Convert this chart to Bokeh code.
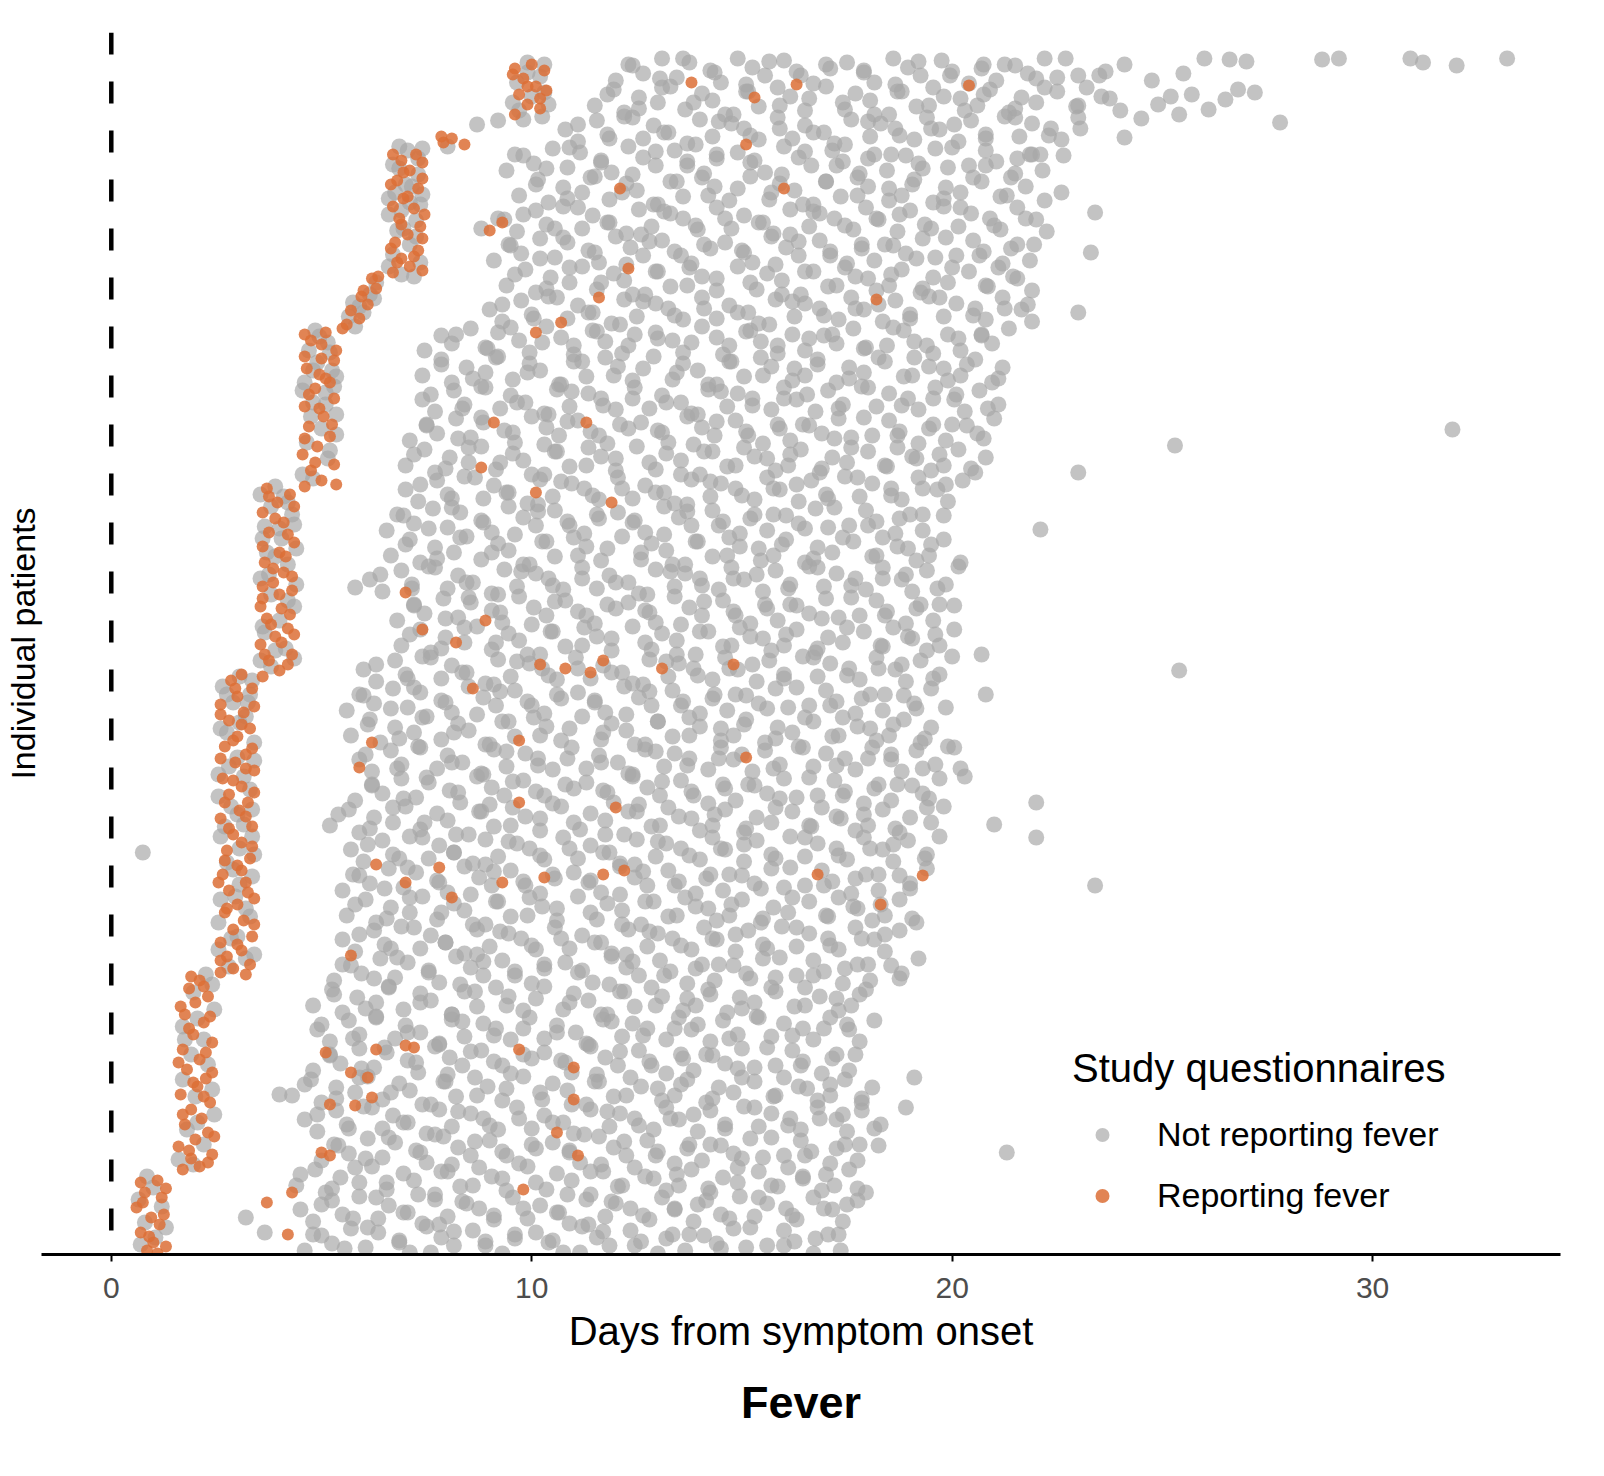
#Scatter of study questionnaires per patient (fever) with bokeh

from bokeh.plotting import figure
from bokeh.models import ColumnDataSource, Range1d, Span, Legend, LegendItem, FixedTicker, Title
from bokeh.core.properties import value
from bokeh.embed import file_html
from bokeh.resources import INLINE

FONT = "Liberation Sans"

#### DATA (day from symptom onset, patient rank) ####
#first questionnaire of each patient: the staircase on the left
stair_fever = [(0.7,72),(1.1,74),(0.8,62),(1.2,57),(0.6,47),(0.95,37),(1.25,40),(0.7,22),(1.0,12),(0.85,4),(1.1,1),
    (1.3,66),(0.75,52),(1.15,30),(0.9,18),(1.3,8),
    (1.7,85),(2.1,88),(1.9,96),(2.4,100),(1.6,108),(2.0,115),(2.3,122),(1.75,130),(2.15,136),(1.9,145),(2.35,152),(1.65,160),
    (2.05,168),(2.25,176),(1.8,185),(2.1,195),(1.7,205),(2.4,212),(1.95,220),(2.2,232),(1.75,240),(2.0,252),(2.3,258),(1.85,266),(2.1,274),
    (2.3,92),(1.85,104),(2.45,118),(1.7,140),(2.2,158),(1.95,172),(2.4,182),(1.6,192),(2.25,202),(1.85,226),(2.35,238),(1.65,248),
    (2.2,268),(1.9,278),
    (2.6,282),(2.9,286),(3.3,290),(2.75,298),(3.1,304),(2.6,312),(3.35,318),(2.9,325),(3.15,334),(2.7,342),(3.0,350),(3.4,356),
    (2.8,364),(3.2,372),(2.65,380),(3.0,389),(3.3,396),(2.75,404),(3.1,412),(2.9,420),(3.35,428),(2.6,436),(3.05,444),(3.25,452),
    (2.8,460),(3.1,468),(2.65,476),(3.4,484),(2.95,492),(3.2,500),(2.7,508),(3.0,518),(3.3,526),(2.8,534),(3.15,542),(2.6,550),
    (3.0,558),(3.35,566),(2.85,574),(3.1,580),
    (3.2,280),(2.6,294),(3.0,310),(3.4,330),(2.75,346),(3.25,362),(2.55,372),(3.1,384),(2.7,394),(3.35,408),(2.8,426),(3.2,438),
    (2.7,452),(3.4,462),(2.9,474),(3.2,486),(2.6,496),(3.35,506),(2.9,514),(3.1,530),(2.6,540),(3.4,548),(2.95,566),
    (3.6,578),(4.0,584),(3.75,594),(4.3,600),(3.55,610),(3.9,618),(4.2,626),(3.7,636),(4.05,646),(3.6,656),(4.3,664),(3.85,672),
    (4.1,682),(3.65,692),(4.0,702),(4.35,712),(3.75,722),(4.1,732),(3.6,742),(3.95,752),(4.25,760),(3.7,766),
    (4.2,590),(3.65,600),(4.05,612),(4.35,620),(3.8,630),(4.25,640),(3.55,648),(4.0,660),(3.6,668),(4.3,678),(3.85,686),(4.15,698),
    (3.6,708),(4.2,720),(3.9,736),(4.35,748),(3.75,758),
    (4.6,768),(5.0,774),(4.75,784),(5.3,790),(4.55,800),(4.9,808),(5.2,818),(4.7,828),(5.05,838),(4.6,848),(5.3,856),(4.85,866),
    (5.1,876),(4.65,886),(5.0,896),(5.35,904),(4.75,914),(5.1,922),
    (5.35,770),(4.85,792),(4.6,816),(5.25,830),(4.95,846),(4.7,860),(5.2,872),(4.95,880),(5.3,894),(4.6,898),(5.0,910),(4.6,920),
    (5.6,930),(5.9,936),(5.7,944),(6.1,950),(5.95,958),(6.3,966),(6.2,976),(5.5,926),(6.0,964),(6.35,978),
    (6.7,982),(7.1,988),(6.9,996),(7.3,1004),(6.75,1012),(7.05,1020),(7.35,1028),(6.85,1036),(7.2,1046),(6.95,1056),(7.3,1066),
    (6.8,1074),(7.1,1084),(6.9,1094),(7.25,1100),
    (7.4,984),(6.8,992),(7.2,998),(6.65,1006),(7.4,1016),(6.9,1030),(7.45,1040),(6.7,1048),(7.05,1058),(6.65,1070),(7.4,1076),
    (6.95,1082),(7.4,1092),(6.7,1100),
    (7.9,1112),(8.1,1116),(8.4,1110),(7.85,1118),
    (9.6,1140),(9.9,1150),(10.2,1146),(9.7,1160),(10.1,1168),(9.8,1176),(10.3,1184),(9.6,1186),(10.0,1190),
    (10.35,1164),(9.55,1180),(9.9,1168),(10.2,1156)]

stair_gray = [(1.0,67),(0.8,32),(1.3,27),(1.05,17),(0.65,55),(0.85,78),(1.2,48),(0.7,10),
    (1.95,90),(2.2,110),(1.8,125),(2.45,140),(2.0,158),(1.7,175),(2.3,190),(1.9,200),(2.2,215),(1.7,228),(2.45,245),(1.95,262),(2.25,280),
    (1.6,95),(2.05,132),(2.4,165),(1.75,215),(2.05,236),(2.4,270),
    (2.8,288),(3.2,296),(2.55,305),(3.0,318),(3.3,338),(2.6,355),(3.05,370),(2.9,385),(3.4,400),(2.6,418),(3.15,430),(2.85,448),
    (3.3,465),(2.55,480),(3.0,497),(3.4,512),(2.75,522),(3.2,538),(2.9,552),(3.3,560),(2.65,568),(3.05,578),
    (3.4,300),(2.85,316),(2.55,332),(3.2,346),(2.95,358),(3.35,378),(2.75,392),(3.05,406),(3.35,418),(2.7,428),(3.0,440),(3.35,445),
    (2.55,458),(3.15,478),(2.8,488),(3.4,494),(2.6,526),(3.05,532),(3.25,552),(2.75,560),(3.35,574),
    (3.8,588),(4.15,606),(3.65,622),(4.0,634),(4.35,648),(3.8,660),(3.55,676),(4.2,690),(3.9,698),(4.4,706),(3.6,716),(4.0,726),
    (4.3,740),(3.8,748),(4.1,758),(3.9,768),(4.35,730),(3.7,702),
    (3.55,594),(4.35,596),(3.9,604),(3.6,628),(4.2,654),(4.4,670),(3.75,680),(4.05,716),(3.65,728),(4.2,752),(3.55,760),
    (4.8,776),(5.15,796),(4.65,812),(5.0,826),(5.35,840),(4.8,852),(5.1,862),(4.6,872),(5.25,884),(4.9,892),(4.7,904),(5.15,912),
    (4.85,924),(5.3,868),
    (4.55,780),(5.2,804),(5.35,820),(4.75,838),(5.1,850),(4.55,864),(5.35,878),(4.8,884),(5.2,902),(4.95,918),
    (5.8,928),(6.0,942),(5.75,952),(6.15,960),(6.3,972),(5.65,938),(6.25,956),(5.9,948),
    (6.9,980),(7.35,992),(6.7,1000),(7.1,1010),(6.95,1026),(6.6,1040),(7.1,1052),(7.4,1060),(6.75,1062),(7.0,1070),(7.3,1080),
    (6.7,1090),(7.05,1104),(6.85,1108),
    (7.2,978),(6.6,988),(7.25,1018),(6.8,1024),(7.25,1034),(6.9,1044),(7.35,1050),(6.6,1056),(7.15,1068),(6.85,1086),(7.3,1096),(7.4,1106),
    (8.0,1108),(8.7,1130),(9.2,1134),
    (9.8,1135),(10.25,1138),(9.55,1152),(10.0,1158),(10.3,1162),(9.65,1172),(10.2,1178),(9.9,1192),
    (9.7,1144),(10.4,1150),(9.9,1182),(10.3,1190)]

#later questionnaires reporting fever
cloud_fever = [(10.1,922),(9.1,832),(10.1,762),(11.9,752),(8.8,787),(7.0,662),(7.4,625),(8.2,612),(8.9,634),(8.6,566),
    (10.2,590),(10.8,586),(11.4,582),(11.7,594),(13.1,586),(14.8,590),(9.7,514),(9.7,452),(6.2,512),(5.9,487),(6.3,390),
    (7.0,372),(7.8,387),(8.1,357),(9.3,372),(10.3,377),(11.7,380),(12.2,384),(12.0,447),(15.1,497),(16.8,380),(18.3,350),
    (19.3,379),(12.3,986),(11.6,957),(10.7,932),(11.3,832),(18.2,955),(15.1,1110),(16.0,1066),(16.3,1170),(15.3,1157),
    (13.8,1172),(12.1,1066),(20.4,1169),(9.0,1024),(9.3,1032),(5.7,299),(6.3,205),(5.7,182),(6.1,177),(5.1,202),(5.0,102),
    (5.2,99),(5.2,150),(5.8,149),(6.2,157),(4.2,20),(3.7,52),(4.3,62),(7.0,209),(7.2,207),(9.7,205),(11.0,187),(11.0,155),
    (11.1,99),(9.8,65),(10.6,122)]

#later questionnaires without fever, read off in horizontal bands (days, patients)
cloud_low = [
    ([4.6,5.0,5.25,5.7,6.05,6.35,6.85,7.1,7.5,7.85,8.15,8.6,8.9,9.3,9.6,10.1,10.5,10.75,11.2,11.55,11.85,12.35,12.6,13.0,13.35,13.65,14.1,14.4,14.8,15.1,15.6,16.0,16.25,16.7,17.05,17.35],
     [4,19,11,26,7,22,14,2,28,17,9,24,13,1,20,22,14,2,28,17,9,24,13,1,20,4,19,11,26,7,9,24,13,1,20,4]),
    ([4.5,4.8,5.25,5.5,5.9,6.35,6.6,6.95,7.4,7.7,8.0,8.45,8.75,9.1,9.55,9.9,10.2,10.65,10.9,11.3,11.75,12.0,12.35,12.8,13.1,13.4,13.85,14.15,14.5,14.95,15.3,15.6,16.05,16.3,16.7,17.15,17.4,17.75],
     [45,33,54,40,58,36,49,42,31,55,38,51,46,35,57,36,49,42,31,55,38,51,46,35,57,45,33,54,40,58,38,51,46,35,57,45,33,54]),
    ([4.4,4.85,5.1,5.45,5.9,6.2,6.55,6.95,7.2,7.7,8.0,8.3,8.75,9.05,9.4,9.9,10.35,10.6,10.95,11.4,11.7,12.05,12.45,12.7,13.2,13.5,13.8,14.25,14.55,14.9,15.4,15.85,16.1,16.45,16.9,17.2,17.55,17.95],
     [69,85,62,77,72,88,65,81,74,60,83,68,87,78,64,88,65,81,74,60,83,68,87,78,64,69,85,62,77,72,83,68,87,78,64,69,85,62]),
    ([5.0,5.4,5.65,6.1,6.45,6.75,7.25,7.5,7.9,8.25,8.55,9.0,9.3,9.7,10.0,10.5,10.9,11.15,11.6,11.95,12.25,12.75,13.0,13.4,13.75,14.05,14.5,14.8,15.2,15.5,16.0,16.4,16.65,17.1,17.45,17.75,18.25],
     [94,109,101,116,97,112,104,92,118,107,99,114,103,91,110,112,104,92,118,107,99,114,103,91,110,94,109,101,116,97,99,114,103,91,110,94,109]),
    ([4.6,4.9,5.35,5.6,6.0,6.45,6.7,7.05,7.5,7.8,8.1,8.55,8.85,9.2,9.65,10.0,10.3,10.75,11.0,11.4,11.85,12.1,12.45,12.9,13.2,13.5,13.95,14.25,14.6,15.05,15.4,15.7,16.15,16.4,16.8,17.25,17.5,17.85,18.3],
     [135,123,144,130,148,126,139,132,121,145,128,141,136,125,147,126,139,132,121,145,128,141,136,125,147,135,123,144,130,148,128,141,136,125,147,135,123,144,130]),
    ([4.3,4.75,5.0,5.35,5.8,6.1,6.45,6.85,7.1,7.6,7.9,8.2,8.65,8.95,9.3,9.8,10.25,10.5,10.85,11.3,11.6,11.95,12.35,12.6,13.1,13.4,13.7,14.15,14.45,14.8,15.3,15.75,16.0,16.35,16.8,17.1,17.45,17.85,18.1],
     [159,175,152,167,162,178,155,171,164,150,173,158,177,168,154,178,155,171,164,150,173,158,177,168,154,159,175,152,167,162,173,158,177,168,154,159,175,152,167]),
    ([4.8,5.2,5.45,5.9,6.25,6.55,7.05,7.3,7.7,8.05,8.35,8.8,9.1,9.5,9.8,10.3,10.7,10.95,11.4,11.75,12.05,12.55,12.8,13.2,13.55,13.85,14.3,14.6,15.0,15.3,15.8,16.2,16.45,16.9,17.25,17.55],
     [184,199,191,206,187,202,194,182,208,197,189,204,193,181,200,202,194,182,208,197,189,204,193,181,200,184,199,191,206,187,189,204,193,181,200,184]),
    ([4.9,5.2,5.65,5.9,6.3,6.75,7.0,7.35,7.8,8.1,8.4,8.85,9.15,9.5,9.95,10.3,10.6,11.05,11.3,11.7,12.15,12.4,12.75,13.2,13.5,13.8,14.25,14.55,14.9,15.35,15.7,16.0,16.45,16.7,17.1,17.55,17.8,18.15],
     [225,213,234,220,238,216,229,222,211,235,218,231,226,215,237,216,229,222,211,235,218,231,226,215,237,225,213,234,220,238,218,231,226,215,237,225,213,234]),
    ([4.8,5.25,5.5,5.85,6.3,6.6,6.95,7.35,7.6,8.1,8.4,8.7,9.15,9.45,9.8,10.3,10.75,11.0,11.35,11.8,12.1,12.45,12.85,13.1,13.6,13.9,14.2,14.65,14.95,15.3,15.8,16.25,16.5,16.85,17.3,17.6,17.95],
     [249,265,242,257,252,268,245,261,254,240,263,248,267,258,244,268,245,261,254,240,263,248,267,258,244,249,265,242,257,252,263,248,267,258,244,249,265]),
    ([5.3,5.7,5.95,6.4,6.75,7.05,7.55,7.8,8.2,8.55,8.85,9.3,9.6,10.0,10.3,10.8,11.2,11.45,11.9,12.25,12.55,13.05,13.3,13.7,14.05,14.35,14.8,15.1,15.5,15.8,16.3,16.7,16.95,17.4,17.75,18.05,18.55,18.8,19.2],
     [274,289,281,296,277,292,284,272,298,287,279,294,283,271,290,292,284,272,298,287,279,294,283,271,290,274,289,281,296,277,279,294,283,271,290,274,289,281,296]),
    ([5.5,5.8,6.25,6.5,6.9,7.35,7.6,7.95,8.4,8.7,9.0,9.45,9.75,10.1,10.55,10.9,11.2,11.65,11.9,12.3,12.75,13.0,13.35,13.8,14.1,14.4,14.85,15.15,15.5,15.95,16.3,16.6,17.05,17.3,17.7,18.15,18.4,18.75],
     [315,303,324,310,328,306,319,312,301,325,308,321,316,305,327,306,319,312,301,325,308,321,316,305,327,315,303,324,310,328,308,321,316,305,327,315,303,324]),
    ([5.6,6.05,6.3,6.65,7.1,7.4,7.75,8.15,8.4,8.9,9.2,9.5,9.95,10.25,10.6,11.1,11.55,11.8,12.15,12.6,12.9,13.25,13.65,13.9,14.4,14.7,15.0,15.45,15.75,16.1,16.6,17.05,17.3,17.65,18.1,18.4,18.75,19.15],
     [339,355,332,347,342,358,335,351,344,330,353,338,357,348,334,358,335,351,344,330,353,338,357,348,334,339,355,332,347,342,353,338,357,348,334,339,355,332]),
    ([5.5,5.9,6.15,6.6,6.95,7.25,7.75,8.0,8.4,8.75,9.05,9.5,9.8,10.2,10.5,11.0,11.4,11.65,12.1,12.45,12.75,13.25,13.5,13.9,14.25,14.55,15.0,15.3,15.7,16.0,16.5,16.9,17.15,17.6,17.95,18.25,18.75,19.0,19.4],
     [364,379,371,386,367,382,374,362,388,377,369,384,373,361,380,382,374,362,388,377,369,384,373,361,380,364,379,371,386,367,369,384,373,361,380,364,379,371,386]),
    ([5.7,6.0,6.45,6.7,7.1,7.55,7.8,8.15,8.6,8.9,9.2,9.65,9.95,10.3,10.75,11.1,11.4,11.85,12.1,12.5,12.95,13.2,13.55,14.0,14.3,14.6,15.05,15.35,15.7,16.15,16.5,16.8,17.25,17.5,17.9,18.35,18.6,18.95,19.4,19.7],
     [405,393,414,400,418,396,409,402,391,415,398,411,406,395,417,396,409,402,391,415,398,411,406,395,417,405,393,414,400,418,398,411,406,395,417,405,393,414,400,418]),
]

cloud_mid = [
    ([5.2,5.65,5.9,6.25,6.7,7.0,7.35,7.75,8.0,8.5,8.8,9.1,9.55,9.85,10.2,10.7,11.15,11.4,11.75,12.2,12.5,12.85,13.25,13.5,14.0,14.3,14.6,15.05,15.35,15.7,16.2,16.65,16.9,17.25,17.7,18.0,18.35,18.75,19.0,19.5,19.8],
     [429,445,422,437,432,448,425,441,434,420,443,428,447,438,424,448,425,441,434,420,443,428,447,438,424,429,445,422,437,432,443,428,447,438,424,429,445,422,437,432,448]),
    ([5.8,6.2,6.45,6.9,7.25,7.55,8.05,8.3,8.7,9.05,9.35,9.8,10.1,10.5,10.8,11.3,11.7,11.95,12.4,12.75,13.05,13.55,13.8,14.2,14.55,14.85,15.3,15.6,16.0,16.3,16.8,17.2,17.45,17.9,18.25,18.55,19.05,19.3,19.7],
     [454,469,461,476,457,472,464,452,478,467,459,474,463,451,470,472,464,452,478,467,459,474,463,451,470,454,469,461,476,457,459,474,463,451,470,454,469,461,476]),
    ([5.9,6.2,6.65,6.9,7.3,7.75,8.0,8.35,8.8,9.1,9.4,9.85,10.15,10.5,10.95,11.3,11.6,12.05,12.3,12.7,13.15,13.4,13.75,14.2,14.5,14.8,15.25,15.55,15.9,16.35,16.7,17.0,17.45,17.7,18.1,18.55,18.8,19.15,19.6,19.9,20.2],
     [495,483,504,490,508,486,499,492,481,505,488,501,496,485,507,486,499,492,481,505,488,501,496,485,507,495,483,504,490,508,488,501,496,485,507,495,483,504,490,508,486]),
    ([5.7,6.15,6.4,6.75,7.2,7.5,7.85,8.25,8.5,9.0,9.3,9.6,10.05,10.35,10.7,11.2,11.65,11.9,12.25,12.7,13.0,13.35,13.75,14.0,14.5,14.8,15.1,15.55,15.85,16.2,16.7,17.15,17.4,17.75,18.2,18.5,18.85,19.25,19.5],
     [519,535,512,527,522,538,515,531,524,510,533,518,537,528,514,538,515,531,524,510,533,518,537,528,514,519,535,512,527,522,533,518,537,528,514,519,535,512,527]),
    ([5.6,6.0,6.25,6.7,7.05,7.35,7.85,8.1,8.5,8.85,9.15,9.6,9.9,10.3,10.6,11.1,11.5,11.75,12.2,12.55,12.85,13.35,13.6,14.0,14.35,14.65,15.1,15.4,15.8,16.1,16.6,17.0,17.25,17.7,18.05,18.35,18.85,19.1,19.5,19.85],
     [544,559,551,566,547,562,554,542,568,557,549,564,553,541,560,562,554,542,568,557,549,564,553,541,560,544,559,551,566,547,549,564,553,541,560,544,559,551,566,547]),
    ([6.0,6.3,6.75,7.0,7.4,7.85,8.1,8.45,8.9,9.2,9.5,9.95,10.25,10.6,11.05,11.4,11.7,12.15,12.4,12.8,13.25,13.5,13.85,14.3,14.6,14.9,15.35,15.65,16.0,16.45,16.8,17.1,17.55,17.8,18.2,18.65,18.9,19.25,19.7,20.0],
     [585,573,594,580,598,576,589,582,571,595,578,591,586,575,597,576,589,582,571,595,578,591,586,575,597,585,573,594,580,598,578,591,586,575,597,585,573,594,580,598]),
    ([6.9,7.35,7.6,7.95,8.4,8.7,9.05,9.45,9.7,10.2,10.5,10.8,11.25,11.55,11.9,12.4,12.85,13.1,13.45,13.9,14.2,14.55,14.95,15.2,15.7,16.0,16.3,16.75,17.05,17.4,17.9,18.35,18.6,18.95,19.4,19.7,20.05],
     [609,625,602,617,612,628,605,621,614,600,623,608,627,618,604,628,605,621,614,600,623,608,627,618,604,609,625,602,617,612,623,608,627,618,604,609,625]),
    ([6.8,7.2,7.45,7.9,8.25,8.55,9.05,9.3,9.7,10.05,10.35,10.8,11.1,11.5,11.8,12.3,12.7,12.95,13.4,13.75,14.05,14.55,14.8,15.2,15.55,15.85,16.3,16.6,17.0,17.3,17.8,18.2,18.45,18.9,19.25,19.55,20.05],
     [634,649,641,656,637,652,644,632,658,647,639,654,643,631,650,652,644,632,658,647,639,654,643,631,650,634,649,641,656,637,639,654,643,631,650,634,649]),
    ([6.15,6.45,6.9,7.15,7.55,8.0,8.25,8.6,9.05,9.35,9.65,10.1,10.4,10.75,11.2,11.55,11.85,12.3,12.55,12.95,13.4,13.65,14.0,14.45,14.75,15.05,15.5,15.8,16.15,16.6,16.95,17.25,17.7,17.95,18.35,18.8,19.05,19.4,19.85,20.15],
     [675,663,684,670,688,666,679,672,661,685,668,681,676,665,687,666,679,672,661,685,668,681,676,665,687,675,663,684,670,688,668,681,676,665,687,675,663,684,670,688]),
    ([6.65,7.1,7.35,7.7,8.15,8.45,8.8,9.2,9.45,9.95,10.25,10.55,11.0,11.3,11.65,12.15,12.6,12.85,13.2,13.65,13.95,14.3,14.7,14.95,15.45,15.75,16.05,16.5,16.8,17.15,17.65,18.1,18.35,18.7,19.15,19.45,19.8,20.2],
     [699,715,692,707,702,718,695,711,704,690,713,698,717,708,694,718,695,711,704,690,713,698,717,708,694,699,715,692,707,702,713,698,717,708,694,699,715,692]),
    ([6.55,6.95,7.2,7.65,8.0,8.3,8.8,9.05,9.45,9.8,10.1,10.55,10.85,11.25,11.55,12.05,12.45,12.7,13.15,13.5,13.8,14.3,14.55,14.95,15.3,15.6,16.05,16.35,16.75,17.05,17.55,17.95,18.2,18.65,19.0,19.3,19.8],
     [724,739,731,746,727,742,734,722,748,737,729,744,733,721,740,742,734,722,748,737,729,744,733,721,740,724,739,731,746,727,729,744,733,721,740,724,739]),
    ([7.0,7.3,7.75,8.0,8.4,8.85,9.1,9.45,9.9,10.2,10.5,10.95,11.25,11.6,12.05,12.4,12.7,13.15,13.4,13.8,14.25,14.5,14.85,15.3,15.6,15.9,16.35,16.65,17.0,17.45,17.8,18.1,18.55,18.8,19.2,19.65,19.9,20.25],
     [765,753,774,760,778,756,769,762,751,775,758,771,766,755,777,756,769,762,751,775,758,771,766,755,777,765,753,774,760,778,758,771,766,755,777,765,753,774]),
    ([7.0,7.45,7.7,8.05,8.5,8.8,9.15,9.55,9.8,10.3,10.6,10.9,11.35,11.65,12.0,12.5,12.95,13.2,13.55,14.0,14.3,14.65,15.05,15.3,15.8,16.1,16.4,16.85,17.15,17.5,18.0,18.45,18.7,19.05,19.5,19.8,20.15,20.55,20.8],
     [789,805,782,797,792,808,785,801,794,780,803,788,807,798,784,808,785,801,794,780,803,788,807,798,784,789,805,782,797,792,803,788,807,798,784,789,805,782,797]),
]

cloud_high = [
    ([7.1,7.5,7.75,8.2,8.55,8.85,9.35,9.6,10.0,10.35,10.65,11.1,11.4,11.8,12.1,12.6,13.0,13.25,13.7,14.05,14.35,14.85,15.1,15.5,15.85,16.15,16.6,16.9,17.3,17.6,18.1,18.5,18.75,19.2,19.55,19.85,20.35,20.6,21.0],
     [814,829,821,836,817,832,824,812,838,827,819,834,823,811,830,832,824,812,838,827,819,834,823,811,830,814,829,821,836,817,819,834,823,811,830,814,829,821,836]),
    ([7.4,7.7,8.15,8.4,8.8,9.25,9.5,9.85,10.3,10.6,10.9,11.35,11.65,12.0,12.45,12.8,13.1,13.55,13.8,14.2,14.65,14.9,15.25,15.7,16.0,16.3,16.75,17.05,17.4,17.85,18.2,18.5,18.95,19.2,19.6,20.05,20.3,20.65,21.1],
     [855,843,864,850,868,846,859,852,841,865,848,861,856,845,867,846,859,852,841,865,848,861,856,845,867,855,843,864,850,868,848,861,856,845,867,855,843,864,850]),
    ([7.4,7.85,8.1,8.45,8.9,9.2,9.55,9.95,10.2,10.7,11.0,11.3,11.75,12.05,12.4,12.9,13.35,13.6,13.95,14.4,14.7,15.05,15.45,15.7,16.2,16.5,16.8,17.25,17.55,17.9,18.4,18.85,19.1,19.45,19.9,20.2,20.55,20.95,21.2],
     [879,895,872,887,882,898,875,891,884,870,893,878,897,888,874,898,875,891,884,870,893,878,897,888,874,879,895,872,887,882,893,878,897,888,874,879,895,872,887]),
    ([7.45,7.85,8.1,8.55,8.9,9.2,9.7,9.95,10.35,10.7,11.0,11.45,11.75,12.15,12.45,12.95,13.35,13.6,14.05,14.4,14.7,15.2,15.45,15.85,16.2,16.5,16.95,17.25,17.65,17.95,18.45,18.85,19.1,19.55,19.9,20.2,20.7,20.95,21.35],
     [904,919,911,926,907,922,914,902,928,917,909,924,913,901,920,922,914,902,928,917,909,924,913,901,920,904,919,911,926,907,909,924,913,901,920,904,919,911,926]),
    ([9.0,9.3,9.75,10.0,10.4,10.85,11.1,11.45,11.9,12.2,12.5,12.95,13.25,13.6,14.05,14.4,14.7,15.15,15.4,15.8,16.25,16.5,16.85,17.3,17.6,17.9,18.35,18.65,19.0,19.45,19.8,20.1,20.55,20.8,21.2,21.65,21.9],
     [945,933,954,940,958,936,949,942,931,955,938,951,946,935,957,936,949,942,931,955,938,951,946,935,957,945,933,954,940,958,938,951,946,935,957,945,933]),
    ([9.4,9.85,10.1,10.45,10.9,11.2,11.55,11.95,12.2,12.7,13.0,13.3,13.75,14.05,14.4,14.9,15.35,15.6,15.95,16.4,16.7,17.05,17.45,17.7,18.2,18.5,18.8,19.25,19.55,19.9,20.4,20.85,21.1,21.45,21.9],
     [969,985,962,977,972,988,965,981,974,960,983,968,987,978,964,988,965,981,974,960,983,968,987,978,964,969,985,962,977,972,983,968,987,978,964]),
    ([9.1,9.5,9.75,10.2,10.55,10.85,11.35,11.6,12.0,12.35,12.65,13.1,13.4,13.8,14.1,14.6,15.0,15.25,15.7,16.05,16.35,16.85,17.1,17.5,17.85,18.15,18.6,18.9,19.3,19.6,20.1,20.5,20.75,21.2,21.55,21.85],
     [994,1009,1001,1016,997,1012,1004,992,1018,1007,999,1014,1003,991,1010,1012,1004,992,1018,1007,999,1014,1003,991,1010,994,1009,1001,1016,997,999,1014,1003,991,1010,994]),
    ([9.35,9.65,10.1,10.35,10.75,11.2,11.45,11.8,12.25,12.55,12.85,13.3,13.6,13.95,14.4,14.75,15.05,15.5,15.75,16.15,16.6,16.85,17.2,17.65,17.95,18.25,18.7,19.0,19.35,19.8,20.15,20.45,20.9,21.15,21.55,22.0,22.25],
     [1035,1023,1044,1030,1048,1026,1039,1032,1021,1045,1028,1041,1036,1025,1047,1026,1039,1032,1021,1045,1028,1041,1036,1025,1047,1035,1023,1044,1030,1048,1028,1041,1036,1025,1047,1035,1023]),
    ([9.7,10.15,10.4,10.75,11.2,11.5,11.85,12.25,12.5,13.0,13.3,13.6,14.05,14.35,14.7,15.2,15.65,15.9,16.25,16.7,17.0,17.35,17.75,18.0,18.5,18.8,19.1,19.55,19.85,20.2,20.7,21.15,21.4,21.75,22.2],
     [1059,1075,1052,1067,1062,1078,1055,1071,1064,1050,1073,1058,1077,1068,1054,1078,1055,1071,1064,1050,1073,1058,1077,1068,1054,1059,1075,1052,1067,1062,1073,1058,1077,1068,1054]),
    ([9.4,9.8,10.05,10.5,10.85,11.15,11.65,11.9,12.3,12.65,12.95,13.4,13.7,14.1,14.4,14.9,15.3,15.55,16.0,16.35,16.65,17.15,17.4,17.8,18.15,18.45,18.9,19.2,19.6,19.9,20.4,20.8,21.05,21.5,21.85,22.15,22.65],
     [1084,1099,1091,1106,1087,1102,1094,1082,1108,1097,1089,1104,1093,1081,1100,1102,1094,1082,1108,1097,1089,1104,1093,1081,1100,1084,1099,1091,1106,1087,1089,1104,1093,1081,1100,1084,1099]),
    ([10.8,11.1,11.55,11.8,12.2,12.65,12.9,13.25,13.7,14.0,14.3,14.75,15.05,15.4,15.85,16.2,16.5,16.95,17.2,17.6,18.05,18.3,18.65,19.1,19.4,19.7,20.15,20.45,20.8,21.25,21.6,21.9,22.35,22.6,23.0],
     [1125,1113,1134,1120,1138,1116,1129,1122,1111,1135,1118,1131,1126,1115,1137,1116,1129,1122,1111,1135,1118,1131,1126,1115,1137,1125,1113,1134,1120,1138,1118,1131,1126,1115,1137]),
    ([11.5,11.95,12.2,12.55,13.0,13.3,13.65,14.05,14.3,14.8,15.1,15.4,15.85,16.15,16.5,17.0,17.45,17.7,18.05,18.5,18.8,19.15,19.55,19.8,20.3,20.6,20.9,21.35,21.65,22.0,22.5,22.95,23.2,23.55,24.0],
     [1149,1165,1142,1157,1152,1168,1145,1161,1154,1140,1163,1148,1167,1158,1144,1168,1145,1161,1154,1140,1163,1148,1167,1158,1144,1149,1165,1142,1157,1152,1163,1148,1167,1158,1144]),
    ([12.0,12.4,12.65,13.1,13.45,13.75,14.25,14.5,14.9,15.25,15.55,16.0,16.3,16.7,17.0,17.5,17.9,18.15,18.6,18.95,19.25,19.75,20.0,20.4,20.75,21.05,21.5,21.8,22.2,22.5,23.0,23.65,24.1,24.75,25.5,26.0],
     [1174,1189,1181,1196,1177,1192,1184,1172,1196,1187,1179,1194,1183,1171,1190,1192,1184,1172,1196,1187,1179,1194,1183,1171,1190,1174,1189,1181,1196,1177,1179,1183,1190,1174,1181,1196]),
]

#second reading of the dense core, between the points above
fill_low = [
    ([4.8,5.55,6.1,6.85,7.6,8.15,8.9,9.6,10.4,11.15,11.7,12.45,13.2,13.75,14.5,15.2,16.0,16.75,17.3],
     [20,6,27,12,2,23,9,16,12,2,23,9,16,20,6,27,9,16,20]),
    ([5.0,5.75,6.3,7.05,7.8,8.35,9.1,9.8,10.6,11.35,11.9,12.65,13.4,13.95,14.7,15.4,16.2,16.95,17.5],
     [50,36,57,42,30,53,39,46,42,30,53,39,46,50,36,57,39,46,50]),
    ([4.5,5.25,5.8,6.55,7.3,7.85,8.6,9.3,10.1,10.85,11.4,12.15,12.9,13.45,14.2,14.9,15.7,16.45,17.0,17.75],
     [80,66,87,72,60,83,69,76,72,60,83,69,76,80,66,87,69,76,80,66]),
    ([5.3,6.05,6.6,7.35,8.1,8.65,9.4,10.1,10.9,11.65,12.2,12.95,13.7,14.25,15.0,15.7,16.5,17.25,17.8],
     [110,96,117,102,90,113,99,106,102,90,113,99,106,110,96,117,99,106,110]),
    ([4.9,5.65,6.2,6.95,7.7,8.25,9.0,9.7,10.5,11.25,11.8,12.55,13.3,13.85,14.6,15.3,16.1,16.85,17.4,18.15],
     [140,126,147,132,120,143,129,136,132,120,143,129,136,140,126,147,129,136,140,126]),
    ([4.6,5.35,5.9,6.65,7.4,7.95,8.7,9.4,10.2,10.95,11.5,12.25,13.0,13.55,14.3,15.0,15.8,16.55,17.1,17.85],
     [170,156,177,162,150,173,159,166,162,150,173,159,166,170,156,177,159,166,170,156]),
    ([5.2,5.95,6.5,7.25,8.0,8.55,9.3,10.0,10.8,11.55,12.1,12.85,13.6,14.15,14.9,15.6,16.4,17.15,17.7],
     [200,186,207,192,180,203,189,196,192,180,203,189,196,200,186,207,189,196,200]),
    ([5.0,5.75,6.3,7.05,7.8,8.35,9.1,9.8,10.6,11.35,11.9,12.65,13.4,13.95,14.7,15.4,16.2,16.95,17.5],
     [230,216,237,222,210,233,219,226,222,210,233,219,226,230,216,237,219,226,230]),
    ([5.3,6.05,6.6,7.35,8.1,8.65,9.4,10.1,10.9,11.65,12.2,12.95,13.7,14.25,15.0,15.7,16.5,17.25,17.8],
     [260,246,267,252,240,263,249,256,252,240,263,249,256,260,246,267,249,256,260]),
    ([5.5,6.25,6.8,7.55,8.3,8.85,9.6,10.3,11.1,11.85,12.4,13.15,13.9,14.45,15.2,15.9,16.7,17.45,18.0,18.75],
     [290,276,297,282,270,293,279,286,282,270,293,279,286,290,276,297,279,286,290,276]),
    ([5.9,6.65,7.2,7.95,8.7,9.25,10.0,10.7,11.5,12.25,12.8,13.55,14.3,14.85,15.6,16.3,17.1,17.85,18.4],
     [320,306,327,312,300,323,309,316,312,300,323,309,316,320,306,327,309,316,320]),
    ([5.8,6.55,7.1,7.85,8.6,9.15,9.9,10.6,11.4,12.15,12.7,13.45,14.2,14.75,15.5,16.2,17.0,17.75,18.3,19.05],
     [350,336,357,342,330,353,339,346,342,330,353,339,346,350,336,357,339,346,350,336]),
    ([5.75,6.5,7.05,7.8,8.55,9.1,9.85,10.55,11.35,12.1,12.65,13.4,14.15,14.7,15.45,16.15,16.95,17.7,18.25,19.0],
     [380,366,387,372,360,383,369,376,372,360,383,369,376,380,366,387,369,376,380,366]),
    ([6.1,6.85,7.4,8.15,8.9,9.45,10.2,10.9,11.7,12.45,13.0,13.75,14.5,15.05,15.8,16.5,17.3,18.05,18.6,19.35],
     [410,396,417,402,390,413,399,406,402,390,413,399,406,410,396,417,399,406,410,396]),
]

fill_mid = [
    ([5.4,6.15,6.7,7.45,8.2,8.75,9.5,10.2,11.0,11.75,12.3,13.05,13.8,14.35,15.1,15.8,16.6,17.35,17.9,18.65,19.4],
     [440,426,447,432,420,443,429,436,432,420,443,429,436,440,426,447,429,436,440,426,447]),
    ([6.2,6.95,7.5,8.25,9.0,9.55,10.3,11.0,11.8,12.55,13.1,13.85,14.6,15.15,15.9,16.6,17.4,18.15,18.7,19.45],
     [470,456,477,462,450,473,459,466,462,450,473,459,466,470,456,477,459,466,470,456]),
    ([6.05,6.8,7.35,8.1,8.85,9.4,10.15,10.85,11.65,12.4,12.95,13.7,14.45,15.0,15.75,16.45,17.25,18.0,18.55,19.3,20.05],
     [500,486,507,492,480,503,489,496,492,480,503,489,496,500,486,507,489,496,500,486,507]),
    ([6.1,6.85,7.4,8.15,8.9,9.45,10.2,10.9,11.7,12.45,13.0,13.75,14.5,15.05,15.8,16.5,17.3,18.05,18.6,19.35],
     [530,516,537,522,510,533,519,526,522,510,533,519,526,530,516,537,519,526,530,516]),
    ([5.9,6.65,7.2,7.95,8.7,9.25,10.0,10.7,11.5,12.25,12.8,13.55,14.3,14.85,15.6,16.3,17.1,17.85,18.4,19.15],
     [560,546,567,552,540,563,549,556,552,540,563,549,556,560,546,567,549,556,560,546]),
    ([6.3,7.05,7.6,8.35,9.1,9.65,10.4,11.1,11.9,12.65,13.2,13.95,14.7,15.25,16.0,16.7,17.5,18.25,18.8,19.55],
     [590,576,597,582,570,593,579,586,582,570,593,579,586,590,576,597,579,586,590,576]),
    ([7.1,7.85,8.4,9.15,9.9,10.45,11.2,11.9,12.7,13.45,14.0,14.75,15.5,16.05,16.8,17.5,18.3,19.05,19.6],
     [620,606,627,612,600,623,609,616,612,600,623,609,616,620,606,627,609,616,620]),
    ([7.2,7.95,8.5,9.25,10.0,10.55,11.3,12.0,12.8,13.55,14.1,14.85,15.6,16.15,16.9,17.6,18.4,19.15,19.7],
     [650,636,657,642,630,653,639,646,642,630,653,639,646,650,636,657,639,646,650]),
    ([6.4,7.15,7.7,8.45,9.2,9.75,10.5,11.2,12.0,12.75,13.3,14.05,14.8,15.35,16.1,16.8,17.6,18.35,18.9,19.65],
     [680,666,687,672,660,683,669,676,672,660,683,669,676,680,666,687,669,676,680,666]),
    ([7.0,7.75,8.3,9.05,9.8,10.35,11.1,11.8,12.6,13.35,13.9,14.65,15.4,15.95,16.7,17.4,18.2,18.95,19.5],
     [710,696,717,702,690,713,699,706,702,690,713,699,706,710,696,717,699,706,710]),
    ([6.8,7.55,8.1,8.85,9.6,10.15,10.9,11.6,12.4,13.15,13.7,14.45,15.2,15.75,16.5,17.2,18.0,18.75,19.3],
     [740,726,747,732,720,743,729,736,732,720,743,729,736,740,726,747,729,736,740]),
    ([7.35,8.1,8.65,9.4,10.15,10.7,11.45,12.15,12.95,13.7,14.25,15.0,15.75,16.3,17.05,17.75,18.55,19.3,19.85],
     [770,756,777,762,750,773,759,766,762,750,773,759,766,770,756,777,759,766,770]),
    ([7.2,7.95,8.5,9.25,10.0,10.55,11.3,12.0,12.8,13.55,14.1,14.85,15.6,16.15,16.9,17.6,18.4,19.15,19.7,20.45],
     [800,786,807,792,780,803,789,796,792,780,803,789,796,800,786,807,789,796,800,786]),
]

fill_high = [
    ([7.5,8.25,8.8,9.55,10.3,10.85,11.6,12.3,13.1,13.85,14.4,15.15,15.9,16.45,17.2,17.9,18.7,19.45,20.0,20.75],
     [830,816,837,822,810,833,819,826,822,810,833,819,826,830,816,837,819,826,830,816]),
    ([7.6,8.35,8.9,9.65,10.4,10.95,11.7,12.4,13.2,13.95,14.5,15.25,16.0,16.55,17.3,18.0,18.8,19.55,20.1,20.85],
     [860,846,867,852,840,863,849,856,852,840,863,849,856,860,846,867,849,856,860,846]),
    ([7.85,8.6,9.15,9.9,10.65,11.2,11.95,12.65,13.45,14.2,14.75,15.5,16.25,16.8,17.55,18.25,19.05,19.8,20.35,21.1],
     [890,876,897,882,870,893,879,886,882,870,893,879,886,890,876,897,879,886,890,876]),
    ([8.2,8.95,9.5,10.25,11.0,11.55,12.3,13.0,13.8,14.55,15.1,15.85,16.6,17.15,17.9,18.6,19.4,20.15,20.7],
     [920,906,927,912,900,923,909,916,912,900,923,909,916,920,906,927,909,916,920]),
    ([9.3,10.05,10.6,11.35,12.1,12.65,13.4,14.1,14.9,15.65,16.2,16.95,17.7,18.25,19.0,19.7,20.5,21.25,21.8],
     [950,936,957,942,930,953,939,946,942,930,953,939,946,950,936,957,939,946,950]),
    ([9.6,10.35,10.9,11.65,12.4,12.95,13.7,14.4,15.2,15.95,16.5,17.25,18.0,18.55,19.3,20.0,20.8,21.55],
     [980,966,987,972,960,983,969,976,972,960,983,969,976,980,966,987,969,976]),
    ([9.45,10.2,10.75,11.5,12.25,12.8,13.55,14.25,15.05,15.8,16.35,17.1,17.85,18.4,19.15,19.85,20.65,21.4,21.95],
     [1010,996,1017,1002,990,1013,999,1006,1002,990,1013,999,1006,1010,996,1017,999,1006,1010]),
    ([9.8,10.55,11.1,11.85,12.6,13.15,13.9,14.6,15.4,16.15,16.7,17.45,18.2,18.75,19.5,20.2,21.0,21.75],
     [1040,1026,1047,1032,1020,1043,1029,1036,1032,1020,1043,1029,1036,1040,1026,1047,1029,1036]),
    ([10.1,10.85,11.4,12.15,12.9,13.45,14.2,14.9,15.7,16.45,17.0,17.75,18.5,19.05,19.8,20.5,21.3],
     [1070,1056,1077,1062,1050,1073,1059,1066,1062,1050,1073,1059,1066,1070,1056,1077,1059]),
    ([9.6,10.35,10.9,11.65,12.4,12.95,13.7,14.4,15.2,15.95,16.5,17.25,18.0,18.55,19.3,20.0,20.8,21.55,22.1],
     [1100,1086,1107,1092,1080,1103,1089,1096,1092,1080,1103,1089,1096,1100,1086,1107,1089,1096,1100]),
    ([11.1,11.85,12.4,13.15,13.9,14.45,15.2,15.9,16.7,17.45,18.0,18.75,19.5,20.05,20.8,21.5,22.3,23.05],
     [1130,1116,1137,1122,1110,1133,1119,1126,1122,1110,1133,1119,1126,1130,1116,1137,1119,1126]),
    ([11.8,12.55,13.1,13.85,14.6,15.15,15.9,16.6,17.4,18.15,18.7,19.45,20.2,20.75,21.5,22.2,23.0,23.75],
     [1160,1146,1167,1152,1140,1163,1149,1156,1152,1140,1163,1149,1156,1160,1146,1167,1149,1156]),
    ([12.3,13.05,13.6,14.35,15.1,15.65,16.4,17.1,17.9,18.65,19.2,19.95,20.7,21.25,22.0,22.7,23.5],
     [1190,1176,1196,1182,1170,1193,1179,1186,1182,1170,1193,1179,1186,1190,1176,1196,1179]),
]

#isolated questionnaires outside the main cloud
sparse_gray = [(0.75,402),(3.2,37),(3.65,22),(4.0,160),(5.8,667),(8.8,1026),(9.2,1036),
    (21.3,102),(18.9,147),(19.1,177),(23.4,369),(22.0,417),(21.0,430),(22.0,452),(20.3,478),(20.8,560),(20.7,600),
    (25.4,584),(22.1,725),(23.0,782),(25.3,809),(31.9,825),(23.0,942),(23.3,1002),(23.4,1042),(22.6,1062),(21.9,1100),
    (24.1,1117),(24.5,1136),(24.9,1150),(25.4,1140),(25.7,1160),(26.1,1145),(26.5,1155),(26.8,1165),(27.2,1162),(25.2,1158),
    (27.8,1132),(26.6,1195),(27.0,1193),(28.8,1195),(29.2,1196),(30.9,1196),(31.2,1192),(32.0,1189),(33.2,1196)]

x_ticks = [0, 10, 20, 30]

#### COLLECT POINTS ####
gray_days = [pt[0] for pt in stair_gray + sparse_gray]
gray_patients = [pt[1] for pt in stair_gray + sparse_gray]
for band in cloud_low + cloud_mid + cloud_high + fill_low + fill_mid + fill_high:
    gray_days += band[0]
    gray_patients += band[1]

fever_pts = stair_fever + cloud_fever
fever_days = [pt[0] for pt in fever_pts]
fever_patients = [pt[1] for pt in fever_pts]

gray_src = ColumnDataSource(dict(day=gray_days, patient=gray_patients))
fever_src = ColumnDataSource(dict(day=fever_days, patient=fever_patients))

#### PLOT ####
p = figure(width=1588, height=1460, x_range=Range1d(-1.66, 34.47), y_range=Range1d(0, 1222),
           output_backend="svg", toolbar_location=None,
           min_border_left=37, min_border_right=28, min_border_top=32, min_border_bottom=206)

p.background_fill_color = "white"
p.border_fill_color = "white"
p.outline_line_color = None
p.xgrid.grid_line_color = None
p.ygrid.grid_line_color = None

#y axis: only its title
p.yaxis.ticker = FixedTicker(ticks=[])
p.yaxis.axis_line_color = None
p.yaxis.major_tick_line_color = None
p.yaxis.minor_tick_line_color = None
p.yaxis.major_tick_out = 0
p.yaxis.major_tick_in = 0
p.yaxis.minor_tick_out = 0
p.yaxis.major_label_standoff = 0
p.yaxis.axis_label = "Individual patients"
p.yaxis.axis_label_standoff = 0
p.yaxis.axis_label_text_font = FONT
p.yaxis.axis_label_text_font_size = "34px"
p.yaxis.axis_label_text_font_style = "normal"
p.yaxis.axis_label_text_color = "black"

#x axis
p.xaxis.ticker = FixedTicker(ticks=x_ticks)
p.xaxis.axis_line_width = 3
p.xaxis.axis_line_color = "black"
p.xaxis.major_tick_line_width = 2
p.xaxis.major_tick_line_color = "black"
p.xaxis.major_tick_out = 7
p.xaxis.major_tick_in = 0
p.xaxis.minor_tick_line_color = None
p.xaxis.major_label_standoff = 16
p.xaxis.major_label_text_font = FONT
p.xaxis.major_label_text_font_size = "30px"
p.xaxis.major_label_text_color = "#4d4d4d"
p.xaxis.axis_label = "Days from symptom onset"
p.xaxis.axis_label_text_font = FONT
p.xaxis.axis_label_text_font_size = "40px"
p.xaxis.axis_label_text_font_style = "normal"
p.xaxis.axis_label_text_color = "black"
p.xaxis.axis_label_standoff = 8

#dashed line at symptom onset
p.add_layout(Span(location=0, dimension="height", line_color="black", line_width=4.5, line_dash="22 27"))

#points
r_gray = p.scatter("day", "patient", source=gray_src, size=16, fill_color="#a6a6a6", fill_alpha=0.68, line_color=None)
r_fever = p.scatter("day", "patient", source=fever_src, size=12, fill_color="#dc6f36", fill_alpha=0.85, line_color=None)

#panel title below
p.add_layout(Title(text="Fever", align="center", text_font=FONT, text_font_size="45px",
                   text_font_style="bold", text_color="black", standoff=38), "below")

#legend
legend = Legend(items=[LegendItem(label=value("Not reporting fever"), renderers=[r_gray]),
                       LegendItem(label=value("Reporting fever"), renderers=[r_fever])],
                location=(1031, 39), title="Study questionnaires",
                title_text_font=FONT, title_text_font_size="40px", title_text_font_style="normal",
                title_text_color="black", title_standoff=24,
                label_text_font=FONT, label_text_font_size="34px", label_text_color="black",
                glyph_width=60, glyph_height=35, label_standoff=25, spacing=22,
                padding=0, margin=0, border_line_color=None, background_fill_alpha=0)
p.add_layout(legend)

open("out.html", "w").write(file_html(p, INLINE))
